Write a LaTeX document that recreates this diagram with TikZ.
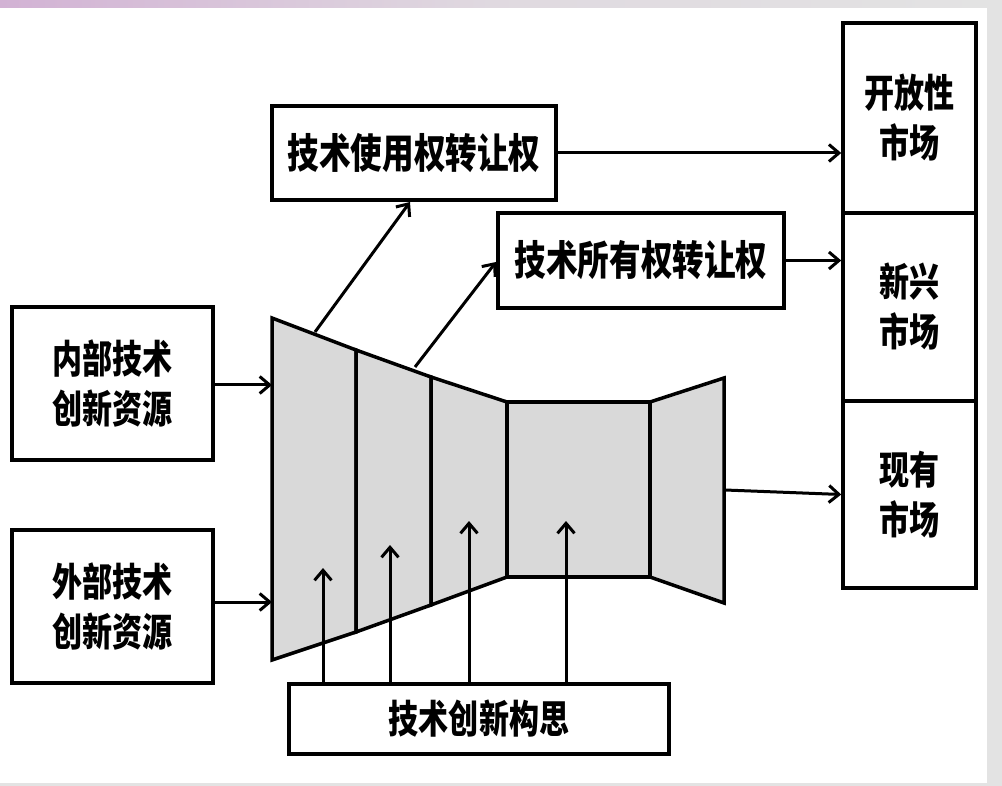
\documentclass[tikz,border=0pt]{standalone}
\usepackage{fontspec}
\newfontfamily\cjk[FakeStretch=0.77]{Noto Sans CJK SC}
\usetikzlibrary{arrows.meta}
\definecolor{segfill}{HTML}{D9D9D9}
\definecolor{framegray}{HTML}{E3E3E3}
\definecolor{bandpink}{HTML}{D2B2D4}
\tikzset{
  box/.style={draw=black, line width=3.5pt, fill=white, inner sep=0pt, align=center,
    font=\cjk\bfseries\fontsize{39}{50}\selectfont},
  bigbox/.style={box, font=\cjk\bfseries\fontsize{41}{50}\selectfont},
  seg/.style={draw=black, line width=3.5pt, fill=segfill, line join=miter},
  arr/.style={draw=black, line width=3pt, -{Straight Barb[length=10pt,width=17pt,line width=3pt]}},
}
\begin{document}
\begin{tikzpicture}[x=1pt,y=-1pt]
\useasboundingbox (0,0) rectangle (1002,786);
% background frame
\fill[framegray] (0,0) rectangle (1002,786);
\fill[white] (0,8) rectangle (987,783);
\shade[left color=bandpink, right color=framegray, middle color=framegray!80!bandpink] (0,0) rectangle (987,8);

% funnel segments
\path[seg] (272,318) -- (356,350) -- (356,632) -- (272,660) -- cycle;
\path[seg] (356,350) -- (431,377) -- (431,605) -- (356,632) -- cycle;
\path[seg] (431,377) -- (507,402) -- (507,577) -- (431,605) -- cycle;
\path[seg] (507,402) -- (650,402) -- (650,577) -- (507,577) -- cycle;
\path[seg] (650,402) -- (724,378) -- (724,603) -- (650,577) -- cycle;

% nodes
\node[box, minimum width=201pt, minimum height=153pt] (inner) at (112.5,383.5) {内部技术\\创新资源};
\node[box, minimum width=201pt, minimum height=153pt] (outer) at (112.5,606.5) {外部技术\\创新资源};
\node[bigbox, minimum width=284pt, minimum height=94pt] (use) at (414,153) {技术使用权转让权};
\node[bigbox, minimum width=286pt, minimum height=95pt] (own) at (641,260.5) {技术所有权转让权};
\node[box, minimum width=133pt, minimum height=190pt] (open) at (909.5,118) {开放性\\市场};
\node[box, minimum width=133pt, minimum height=188pt] (new) at (909.5,307) {新兴\\市场};
\node[box, minimum width=133pt, minimum height=187pt] (exist) at (909.5,494.5) {现有\\市场};
\node[box, minimum width=380pt, minimum height=70pt] (idea) at (479,719) {技术创新构思};

% coordinates on the funnel
\coordinate (in1) at (272,385);
\coordinate (in2) at (272,602);
\coordinate (d1s) at (315,332);
\coordinate (d1e) at (410,202);
\coordinate (d2s) at (415,367);
\coordinate (d2e) at (496,262);
\coordinate (outf) at (725,490);
\coordinate (u1) at (323,568);
\coordinate (u2) at (390,545);
\coordinate (u3) at (469,521);
\coordinate (u4) at (566,521);

% connectors
\draw[arr] (inner.east |- in1) -- (in1);
\draw[arr] (outer.east |- in2) -- (in2);
\draw[arr] (d1s) -- (d1e);
\draw[arr] (d2s) -- (d2e);
\draw[arr] (use.east) -- (open.west |- use.east);
\draw[arr] (own.east) -- (new.west |- own.east);
\draw[arr] (outf) -- (exist.west);
\draw[arr] (idea.north -| u1) -- (u1);
\draw[arr] (idea.north -| u2) -- (u2);
\draw[arr] (idea.north -| u3) -- (u3);
\draw[arr] (idea.north -| u4) -- (u4);
\end{tikzpicture}
\end{document}
